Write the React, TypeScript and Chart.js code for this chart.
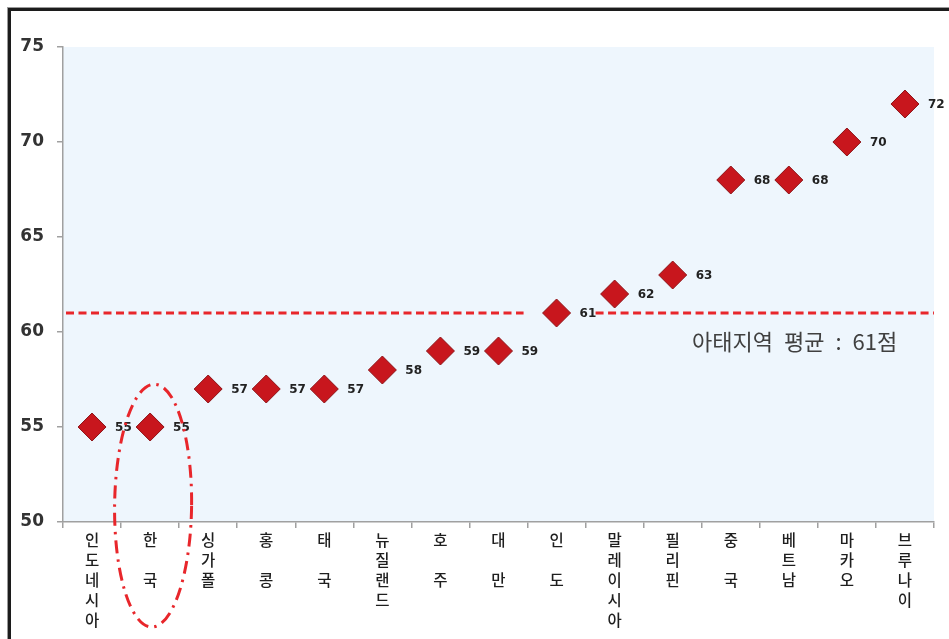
import React, { useEffect, useRef } from "react";
import { Chart, registerables } from "chart.js";

Chart.register(...registerables);

const categories: string[][] = [
  ["인", "도", "네", "시", "아"],
  ["한", "", "국"],
  ["싱", "가", "폴"],
  ["홍", "", "콩"],
  ["태", "", "국"],
  ["뉴", "질", "랜", "드"],
  ["호", "", "주"],
  ["대", "", "만"],
  ["인", "", "도"],
  ["말", "레", "이", "시", "아"],
  ["필", "리", "핀"],
  ["중", "", "국"],
  ["베", "트", "남"],
  ["마", "카", "오"],
  ["브", "루", "나", "이"],
];
const scores: number[] = [55, 55, 57, 57, 57, 58, 59, 59, 61, 62, 63, 68, 68, 70, 72];
const averageValue = 61;
const averageLabel = "아태지역\u2002평균\u2002:\u200261점";
const highlightIndex = 1; // 한국
const yMin = 50;
const yMax = 75;
const yStep = 5;

const W = 949;
const H = 639;

export default function App() {
  const canvasRef = useRef<HTMLCanvasElement | null>(null);

  useEffect(() => {
    const canvas = canvasRef.current;
    if (!canvas) return;

    const bgPlugin = {
      id: "plotBg",
      beforeDraw(chart: any) {
        const { ctx, chartArea: a } = chart;
        ctx.save();
        ctx.fillStyle = "#EEF6FD";
        ctx.fillRect(a.left, a.top, a.right - a.left, a.bottom - a.top);
        ctx.restore();
      },
    };

    const annotPlugin = {
      id: "annot",
      beforeDatasetsDraw(chart: any) {
        const { ctx, chartArea: a, scales } = chart;
        const ys = scales.y;
        const xs = scales.x;
        const yAvg = ys.getPixelForValue(averageValue);
        const xGap = xs.getPixelForValue(8);
        ctx.save();
        ctx.strokeStyle = "#E8262B";
        ctx.lineWidth = 3;
        ctx.setLineDash([8, 4.5]);
        ctx.beginPath();
        ctx.moveTo(a.left + 3, yAvg);
        ctx.lineTo(xGap - 33, yAvg);
        ctx.stroke();
        ctx.beginPath();
        ctx.moveTo(xGap + 39, yAvg);
        ctx.lineTo(a.right, yAvg);
        ctx.stroke();
        ctx.setLineDash([]);
        ctx.fillStyle = "#404040";
        ctx.font = '22px "Noto Sans CJK KR", "Noto Sans", sans-serif';
        ctx.textAlign = "left";
        ctx.textBaseline = "middle";
        ctx.fillText(averageLabel, 692, yAvg + 29);
        ctx.restore();
      },
      afterDatasetsDraw(chart: any) {
        const { ctx } = chart;
        const meta = chart.getDatasetMeta(0);
        ctx.save();
        ctx.fillStyle = "#222222";
        ctx.font = 'bold 12px "DejaVu Sans", sans-serif';
        ctx.textAlign = "left";
        ctx.textBaseline = "middle";
        meta.data.forEach((pt: any, i: number) => {
          ctx.fillText(String(scores[i]), pt.x + 23, pt.y + 1);
        });
        ctx.restore();
      },
      afterDraw(chart: any) {
        const { ctx, chartArea: a, scales } = chart;
        const xs = scales.x;
        const ys = scales.y;
        const cx = xs.getPixelForValue(highlightIndex) + 3;
        const top = ys.getPixelForValue(57.25);
        const bottom = a.bottom + 105;
        const cy = (top + bottom) / 2;
        const ry = (bottom - top) / 2;
        const rx = 38.5;
        ctx.save();
        ctx.strokeStyle = "#E8262B";
        ctx.lineWidth = 3;
        ctx.setLineDash([13, 6, 2.5, 6]);
        ctx.beginPath();
        ctx.ellipse(cx, cy, rx, ry, 0.012, 0, Math.PI * 2);
        ctx.stroke();
        ctx.restore();
      },
    };

    const chart = new Chart(canvas, {
      type: "line",
      data: {
        labels: categories,
        datasets: [
          {
            data: scores,
            showLine: false,
            pointStyle: "rectRot",
            pointRadius: 14,
            pointHoverRadius: 14,
            pointBackgroundColor: "#C8161D",
            pointBorderColor: "#8E1418",
            pointBorderWidth: 1,
          },
        ],
      },
      options: {
        animation: false,
        responsive: true,
        maintainAspectRatio: false,
        events: [],
        layout: { padding: { left: 1, top: 47, right: 14, bottom: 0 } },
        plugins: {
          legend: { display: false },
          tooltip: { enabled: false },
        },
        scales: {
          x: {
            type: "category",
            offset: true,
            grid: {
              offset: true,
              drawOnChartArea: false,
              drawTicks: true,
              tickLength: 6,
              color: "#A0A0A0",
              lineWidth: 1.5,
            },
            border: { color: "#A0A0A0", width: 1.5 },
            ticks: {
              autoSkip: false,
              maxRotation: 0,
              minRotation: 0,
              padding: 2,
              color: "#1e1e1e",
              font: { family: '"Noto Sans CJK KR", sans-serif', size: 15.5, weight: "500", lineHeight: "20px" } as any,
            },
            afterFit(scale: any) {
              scale.height = H - 522;
            },
          },
          y: {
            min: yMin,
            max: yMax,
            grid: {
              drawOnChartArea: false,
              drawTicks: true,
              tickLength: 6,
              color: "#A0A0A0",
              lineWidth: 1.5,
            },
            border: { color: "#A0A0A0", width: 1.5 },
            ticks: {
              stepSize: yStep,
              padding: 13,
              color: "#333333",
              font: { family: '"DejaVu Sans", sans-serif', size: 17, weight: "bold" } as any,
            },
            afterFit(scale: any) {
              scale.width = 62;
            },
          },
        },
      },
      plugins: [bgPlugin, annotPlugin],
    } as any);

    return () => chart.destroy();
  }, []);

  return (
    <div style={{ position: "fixed", left: 0, top: 0, width: W, height: H, overflow: "hidden", background: "#fff" }}>
      <div
        style={{
          position: "absolute",
          left: 8,
          top: 8,
          width: W,
          height: H,
          borderTop: "3px solid #1c1c1c",
          borderLeft: "3px solid #1c1c1c",
          boxShadow: "-1px -1px 0 #9a9a9a",
        }}
      />
      <div style={{ position: "absolute", left: 0, top: 0, width: W, height: H }}>
        <canvas ref={canvasRef} />
      </div>
    </div>
  );
}
